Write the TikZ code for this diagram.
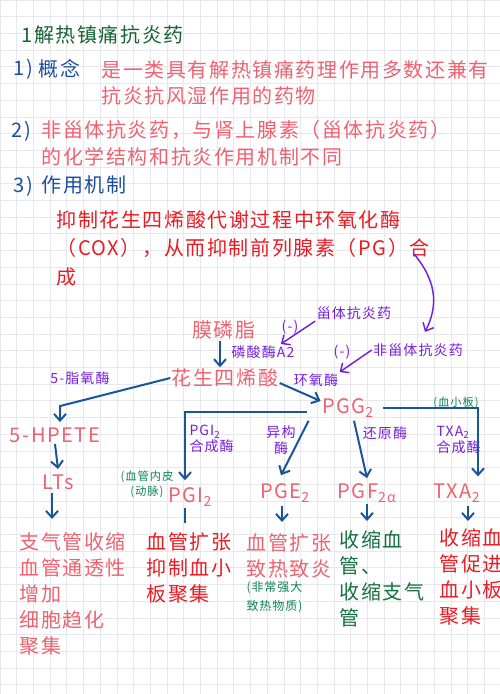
\documentclass[tikz,border=0pt]{standalone}
\usepackage{fontspec}
\setmainfont{Noto Sans CJK SC}[LetterSpace=8]
\usetikzlibrary{arrows.meta,calc}

\definecolor{titlegreen}{RGB}{22,100,52}
\definecolor{numblue}{RGB}{28,78,160}
\definecolor{notepink}{RGB}{238,98,112}
\definecolor{notered}{RGB}{232,28,36}
\definecolor{drugpurple}{RGB}{118,30,220}
\definecolor{arrowblue}{RGB}{24,86,152}
\definecolor{notegreen}{RGB}{12,132,82}
\definecolor{darkgreen}{RGB}{20,112,62}
\definecolor{gridgrey}{RGB}{230,232,238}

\tikzset{every picture/.style={line width=0.75pt}}
\tikzset{
  flow/.style={color=arrowblue, line width=1.5pt, -{Straight Barb[length=5pt,width=9pt]}},
  inhibit/.style={color=drugpurple, line width=1.1pt, -{Straight Barb[length=5pt,width=9pt]}},
}

\newcommand\bodysize{\fontsize{15}{19.5}\selectfont}
\newcommand\labelsize{\fontsize{10.5}{12}\selectfont}
\newcommand\notesize{\fontsize{8.5}{11}\selectfont}

\begin{document}
\begin{tikzpicture}[x=0.75pt,y=0.75pt,yscale=-1,xscale=1]
    \useasboundingbox (0,0) rectangle (500,694);
    %Shape: Grid
    \draw [color=gridgrey, line width=0.5pt, step=12.525pt] (0,0) grid (500,694);

    % Text Node
    \draw (20,35) node [anchor=west][inner sep=0.75pt] [font=\bodysize, color=titlegreen] (title) {1解热镇痛抗炎药};
    % Text Node
    \draw (12,69) node [anchor=west][inner sep=0.75pt] [font=\bodysize, color=numblue] (num1) {1)};
    % Text Node
    \draw (37,69) node [anchor=west][inner sep=0.75pt] [font=\bodysize, color=numblue] (concept) {概念};
    % Text Node
    \draw (100,59) node [anchor=north west][inner sep=0.75pt] [font=\bodysize, color=notepink] [align=left] (def) {是一类具有解热镇痛药理作用多数还兼有\\抗炎抗风湿作用的药物};
    % Text Node
    \draw (10,131) node [anchor=west][inner sep=0.75pt] [font=\bodysize, color=numblue] (num2) {2)};
    % Text Node
    \draw (40,119) node [anchor=north west][inner sep=0.75pt] [font=\fontsize{15}{20.2}\selectfont, color=notepink] [align=left] (diff) {非甾体抗炎药，与肾上腺素（甾体抗炎药）\\的化学结构和抗炎作用机制不同};
    % Text Node
    \draw (12,186) node [anchor=west][inner sep=0.75pt] [font=\bodysize, color=numblue] (num3) {3)};
    % Text Node
    \draw (40,185) node [anchor=west][inner sep=0.75pt] [font=\bodysize, color=numblue] (mechtitle) {作用机制};
    % Text Node
    \draw (55,209) node [anchor=north west][inner sep=0.75pt] [font=\fontsize{15}{21.4}\selectfont, color=notered] [align=left] (mech) {抑制花生四烯酸代谢过程中环氧化酶\\（COX），从而抑制前列腺素（PG）合\\成};
    \coordinate (pgtail) at (414,254);

    % Text Node
    \draw (224,330) node [inner sep=0.75pt] [font=\bodysize, color=notepink] (membrane) {膜磷脂};
    % Text Node
    \draw (354,313) node [inner sep=0.75pt] [font=\labelsize, color=drugpurple] (steroid) {甾体抗炎药};
    % Text Node
    \draw (290,327) node [inner sep=0.75pt] [font=\labelsize, color=drugpurple] (minusa) {(-)};
    % Text Node
    \draw (263,352) node [inner sep=0.75pt] [font=\labelsize, color=drugpurple] (pla) {磷酸酶A2};
    % Text Node
    \draw (342,352) node [inner sep=0.75pt] [font=\labelsize, color=drugpurple] (minusb) {(-)};
    % Text Node
    \draw (418,350) node [inner sep=0.75pt] [font=\labelsize, color=drugpurple] (nsaid) {非甾体抗炎药};
    % Text Node
    \draw (80,378) node [inner sep=0.75pt] [font=\labelsize, color=drugpurple] (lox) {5-脂氧酶};
    % Text Node
    \draw (225,378) node [inner sep=0.75pt] [font=\bodysize, color=notepink] (aa) {花生四烯酸};
    % Text Node
    \draw (316,380) node [inner sep=0.75pt] [font=\labelsize, color=drugpurple] (cox) {环氧酶};
    % Text Node
    \draw (348,408) node [inner sep=0.75pt] [font=\bodysize, color=notepink] (pgg) {PGG\textsubscript{2}};
    % Text Node
    \draw (456,403) node [inner sep=0.75pt] [font=\notesize, color=notegreen] (platelet) {(血小板)};
    % Text Node
    \draw (55,435) node [inner sep=0.75pt] [font=\bodysize, color=notepink] (hpete) {5-HPETE};
    % Text Node
    \draw (58,482) node [inner sep=0.75pt] [font=\bodysize, color=notepink] (lts) {LTs};
    % Text Node
    \draw (188,424) node [anchor=north west][inner sep=0.75pt] [font=\labelsize, color=drugpurple] [align=left] (pgis) {PGI\textsubscript{2}\\合成酶};
    % Text Node
    \draw (281,440) node [inner sep=0.75pt] [font=\labelsize, color=drugpurple] [align=center] (isom) {异构\\酶};
    % Text Node
    \draw (385,433) node [inner sep=0.75pt] [font=\labelsize, color=drugpurple] (reduc) {还原酶};
    % Text Node
    \draw (435,425) node [anchor=north west][inner sep=0.75pt] [font=\labelsize, color=drugpurple] [align=left] (txas) {TXA\textsubscript{2}\\合成酶};
    % Text Node
    \draw (147,484) node [inner sep=0.75pt] [font=\notesize, color=notegreen] [align=center] (endo) {(血管内皮\\(动脉)};
    % Text Node
    \draw (190,497) node [inner sep=0.75pt] [font=\bodysize, color=notepink] (pgi) {PGI\textsubscript{2}};
    % Text Node
    \draw (285,493) node [inner sep=0.75pt] [font=\bodysize, color=notepink] (pge) {PGE\textsubscript{2}};
    % Text Node
    \draw (367,493) node [inner sep=0.75pt] [font=\bodysize, color=notepink] (pgf) {PGF\textsubscript{2α}};
    % Text Node
    \draw (457,493) node [inner sep=0.75pt] [font=\bodysize, color=notepink] (txa) {TXA\textsubscript{2}};

    % Text Node
    \draw (18,531) node [anchor=north west][inner sep=0.75pt] [font=\bodysize, color=notepink] [align=left] (effa) {支气管收缩\\血管通透性\\增加\\细胞趋化\\聚集};
    % Text Node
    \draw (145,531) node [anchor=north west][inner sep=0.75pt] [font=\bodysize, color=notered] [align=left] (effb) {血管扩张\\抑制血小\\板聚集};
    % Text Node
    \draw (245,532) node [anchor=north west][inner sep=0.75pt] [font=\bodysize, color=notepink] [align=left] (effc) {血管扩张\\致热致炎};
    % Text Node
    \draw (245,580) node [anchor=north west][inner sep=0.75pt] [font=\fontsize{9}{14}\selectfont, color=notegreen] [align=left] (pyro) {(非常强大\\致热物质)};
    % Text Node
    \draw (338,529) node [anchor=north west][inner sep=0.75pt] [font=\bodysize, color=darkgreen] [align=left] (effd) {收缩血\\管、\\收缩支气\\管};
    % Text Node
    \draw (438,527) node [anchor=north west][inner sep=0.75pt] [font=\bodysize, color=notered] [align=left] (effe) {收缩血\\管促进\\血小板\\聚集};

    %Curve Lines
    \draw [inhibit] (pgtail) .. controls (440,285) and (436,310) .. ($(nsaid.north)+(7,-10)$) ;
    %Straight Lines
    \draw [inhibit] (steroid.south west) -- ($(pla.north east)+(-15,0)$) ;
    %Straight Lines
    \draw [inhibit] (nsaid.west) -- (cox.north east) ;
    %Straight Lines
    \draw [flow] ($(membrane.south)+(-4,0)$) -- ($(aa.north)+(-5,0)$) ;
    %Straight Lines
    \draw [flow] (aa.west) -- ($(hpete.north)+(5,-20)$) -- ($(hpete.north)+(5,-4)$) ;
    %Straight Lines
    \draw [flow] ($(aa.east)+(0,5)$) -- ($(pgg.west)+(0,-7)$) ;
    %Straight Lines
    \draw [flow] ($(pgg.west)+(-14,4)$) -| ($(pgi.north)+(-5,-6)$) ;
    %Straight Lines
    \draw [flow] ($(pgg.east)+(8,0)$) -| ($(txa.north)+(21,-6)$) ;
    %Straight Lines
    \draw [flow] ($(pgg.south west)+(-12,2)$) -- ($(pge.north)+(-4,-7)$) ;
    %Straight Lines
    \draw [flow] ($(pgg.south)+(6,2)$) -- ($(pgf.north)+(0,-4)$) ;
    %Straight Lines
    \draw [flow] (hpete.south) -- ($(lts.north)+(0,-4)$) ;
    %Straight Lines
    \draw [flow] ($(lts.south)+(-6,2)$) -- ($(lts.south |- effa.north)+(-6,-12)$) ;
    %Straight Lines
    \draw [color=arrowblue, line width=1.5pt] ($(pgi.south)+(-5,0)$) -- ($(pgi.south |- effb.north)+(-5,-8)$) ;
    %Straight Lines
    \draw [flow] ($(pge.south)+(-3,2)$) -- ($(pge.south |- effc.north)+(-3,-10)$) ;
    %Straight Lines
    \draw [flow] (pgf.south) -- ($(pgf.south |- effd.north)+(0,-8)$) ;
    %Straight Lines
    \draw [flow] ($(txa.south)+(11,2)$) -- ($(txa.south |- effe.north)+(11,-6)$) ;
\end{tikzpicture}
\end{document}
